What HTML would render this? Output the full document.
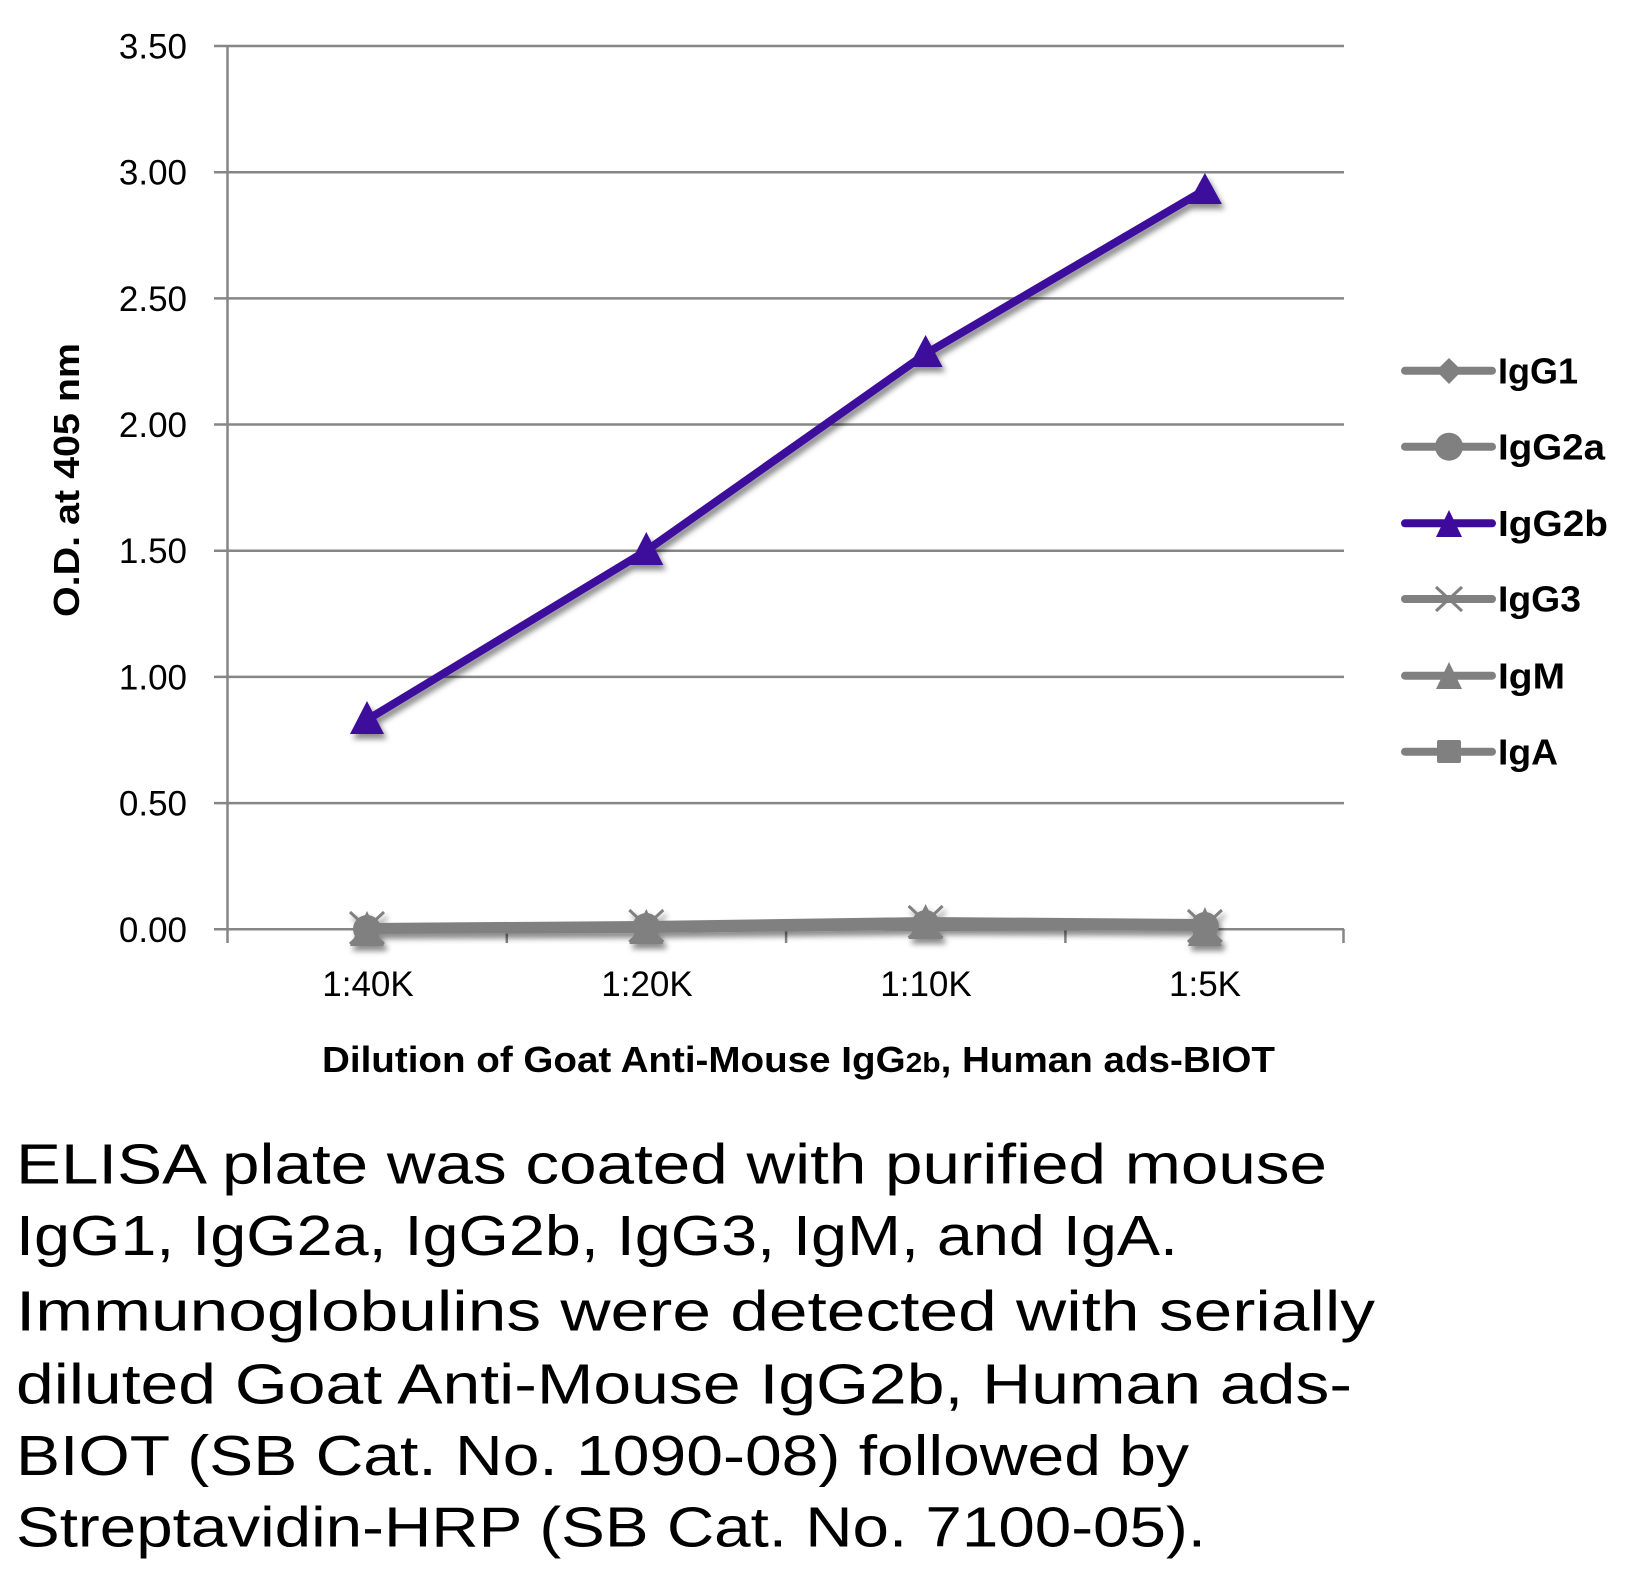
<!DOCTYPE html>
<html>
<head>
<meta charset="utf-8">
<style>
  html,body{margin:0;padding:0;background:#ffffff;}
  svg{display:block;}
  text{font-family:"Liberation Sans",sans-serif;}
</style>
</head>
<body>
<svg width="1652" height="1581" viewBox="0 0 1652 1581" xmlns="http://www.w3.org/2000/svg">
  <defs>
    <filter id="sh" x="-20%" y="-50%" width="140%" height="200%">
      <feDropShadow dx="3" dy="5" stdDeviation="3" flood-color="#000" flood-opacity="0.45"/>
    </filter>
  </defs>
  <rect width="1652" height="1581" fill="#fff"/>

  <!-- gridlines -->
  <g stroke="#868686" stroke-width="2.5">
    <line x1="214" y1="46" x2="1344" y2="46"/>
    <line x1="214" y1="172.2" x2="1344" y2="172.2"/>
    <line x1="214" y1="298.4" x2="1344" y2="298.4"/>
    <line x1="214" y1="424.5" x2="1344" y2="424.5"/>
    <line x1="214" y1="550.7" x2="1344" y2="550.7"/>
    <line x1="214" y1="676.9" x2="1344" y2="676.9"/>
    <line x1="214" y1="803.1" x2="1344" y2="803.1"/>
    <line x1="214" y1="929.3" x2="1344" y2="929.3"/>
    <!-- y axis -->
    <line x1="227.5" y1="46" x2="227.5" y2="943"/>
    <!-- x ticks -->
    <line x1="506.8" y1="929" x2="506.8" y2="943"/>
    <line x1="786.1" y1="929" x2="786.1" y2="943"/>
    <line x1="1065.4" y1="929" x2="1065.4" y2="943"/>
    <line x1="1343.5" y1="929" x2="1343.5" y2="943"/>
  </g>

  <!-- y tick labels -->
  <g font-size="35" fill="#000" text-anchor="end">
    <text x="187" y="58.5">3.50</text>
    <text x="187" y="184.7">3.00</text>
    <text x="187" y="310.9">2.50</text>
    <text x="187" y="437">2.00</text>
    <text x="187" y="563.2">1.50</text>
    <text x="187" y="689.4">1.00</text>
    <text x="187" y="815.6">0.50</text>
    <text x="187" y="941.8">0.00</text>
  </g>

  <!-- x tick labels -->
  <g font-size="35" fill="#000" text-anchor="middle">
    <text x="368" y="996">1:40K</text>
    <text x="647" y="996">1:20K</text>
    <text x="926" y="996">1:10K</text>
    <text x="1205" y="996">1:5K</text>
  </g>

  <!-- axis titles -->
  <text x="322" y="1072" font-size="36" font-weight="bold" textLength="953" lengthAdjust="spacingAndGlyphs">Dilution of Goat Anti-Mouse IgG<tspan font-size="28">2b</tspan>, Human ads-BIOT</text>
  <text transform="translate(79,617) rotate(-90)" font-size="36" font-weight="bold" textLength="274" lengthAdjust="spacingAndGlyphs">O.D. at 405 nm</text>

  <!-- gray series (overlapping near zero) -->
  <g filter="url(#sh)">
    <polyline points="367,927 646.3,925 925.6,921 1204.9,923" fill="none" stroke="#808080" stroke-width="8" stroke-linejoin="round"/>
    <polyline points="367,930 646.3,929 925.6,926 1204.9,927" fill="none" stroke="#808080" stroke-width="8" stroke-linejoin="round"/>
    <g fill="#808080" stroke="#808080">
      <circle cx="367" cy="929" r="14" stroke="none"/>
      <polygon points="367,911 384,946 350,946" stroke="none"/>
      <line x1="350" y1="912" x2="384" y2="944" stroke-width="3"/>
      <line x1="384" y1="912" x2="350" y2="944" stroke-width="3"/>
      <circle cx="646.3" cy="927" r="14" stroke="none"/>
      <polygon points="646.3,909 663.3,944 629.3,944" stroke="none"/>
      <line x1="629.3" y1="910" x2="663.3" y2="942" stroke-width="3"/>
      <line x1="663.3" y1="910" x2="629.3" y2="942" stroke-width="3"/>
      <circle cx="925.6" cy="924" r="14" stroke="none"/>
      <polygon points="925.6,904 942.6,939 908.6,939" stroke="none"/>
      <line x1="908.6" y1="906" x2="942.6" y2="938" stroke-width="3"/>
      <line x1="942.6" y1="906" x2="908.6" y2="938" stroke-width="3"/>
      <circle cx="1204.9" cy="926" r="14" stroke="none"/>
      <polygon points="1204.9,907 1221.9,946 1187.9,946" stroke="none"/>
      <line x1="1187.9" y1="910" x2="1221.9" y2="942" stroke-width="3"/>
      <line x1="1221.9" y1="910" x2="1187.9" y2="942" stroke-width="3"/>
    </g>
  </g>

  <!-- IgG2b purple series -->
  <g filter="url(#sh)">
    <polyline points="367,719.8 646.3,550.7 925.6,353.8 1204.9,189.8" fill="none" stroke="#3d0a9c" stroke-width="8" stroke-linejoin="round"/>
    <g fill="#3d0a9c">
      <polygon points="367,701 384,734 350,734"/>
      <polygon points="646.3,532 663.3,565 629.3,565"/>
      <polygon points="925.6,335 942.6,367 908.6,367"/>
      <polygon points="1204.9,173 1221.9,204 1187.9,204"/>
    </g>
  </g>

  <!-- legend -->
  <g stroke-linecap="round" stroke-width="8">
    <line x1="1405" y1="370.7" x2="1492" y2="370.7" stroke="#808080"/>
    <line x1="1405" y1="446.7" x2="1492" y2="446.7" stroke="#808080"/>
    <line x1="1405" y1="523.3" x2="1492" y2="523.3" stroke="#3d0a9c"/>
    <line x1="1405" y1="599" x2="1492" y2="599" stroke="#808080"/>
    <line x1="1405" y1="675.7" x2="1492" y2="675.7" stroke="#808080"/>
    <line x1="1405" y1="751.7" x2="1492" y2="751.7" stroke="#808080"/>
  </g>
  <polygon points="1449,358 1462,370.7 1449,384 1436,370.7" fill="#808080"/>
  <circle cx="1449" cy="446.7" r="14" fill="#808080"/>
  <polygon points="1449,510 1462,537 1436,537" fill="#3d0a9c"/>
  <g stroke="#808080" stroke-width="3">
    <line x1="1436" y1="587" x2="1462" y2="611"/>
    <line x1="1462" y1="587" x2="1436" y2="611"/>
  </g>
  <polygon points="1449,662 1462,689 1436,689" fill="#808080"/>
  <rect x="1437" y="740" width="24" height="23" rx="2" fill="#808080"/>

  <g font-size="36" font-weight="bold" fill="#000">
    <text x="1498" y="383.4" textLength="80" lengthAdjust="spacingAndGlyphs">IgG1</text>
    <text x="1498" y="459.4" textLength="107" lengthAdjust="spacingAndGlyphs">IgG2a</text>
    <text x="1498" y="536" textLength="110" lengthAdjust="spacingAndGlyphs">IgG2b</text>
    <text x="1498" y="611.7" textLength="83" lengthAdjust="spacingAndGlyphs">IgG3</text>
    <text x="1498" y="688.4" textLength="67" lengthAdjust="spacingAndGlyphs">IgM</text>
    <text x="1498" y="764.4" textLength="60" lengthAdjust="spacingAndGlyphs">IgA</text>
  </g>

  <!-- caption -->
  <g font-size="57" fill="#000">
    <text x="16" y="1183.3" textLength="1311" lengthAdjust="spacingAndGlyphs">ELISA plate was coated with purified mouse</text>
    <text x="16" y="1255" textLength="1162" lengthAdjust="spacingAndGlyphs">IgG1, IgG2a, IgG2b, IgG3, IgM, and IgA.</text>
    <text x="16" y="1330.7" textLength="1359" lengthAdjust="spacingAndGlyphs">Immunoglobulins were detected with serially</text>
    <text x="16" y="1403.3" textLength="1336" lengthAdjust="spacingAndGlyphs">diluted Goat Anti-Mouse IgG2b, Human ads-</text>
    <text x="16" y="1475" textLength="1173" lengthAdjust="spacingAndGlyphs">BIOT (SB Cat. No. 1090-08) followed by</text>
    <text x="16" y="1546.7" textLength="1190" lengthAdjust="spacingAndGlyphs">Streptavidin-HRP (SB Cat. No. 7100-05).</text>
  </g>
</svg>
</body>
</html>
